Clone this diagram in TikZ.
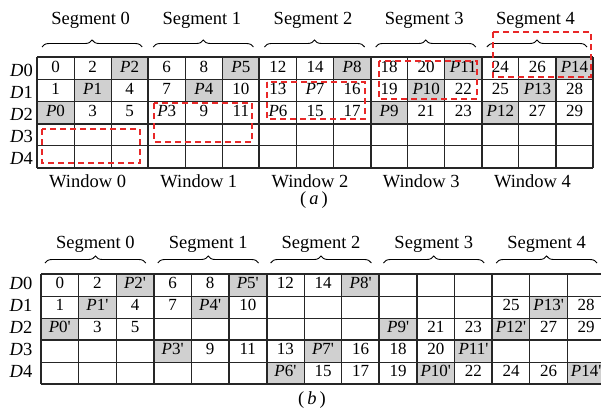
\documentclass[tikz,border=0pt]{standalone}
\usepackage{fontspec}
\setmainfont{Liberation Serif}
\usetikzlibrary{decorations.pathreplacing}
\definecolor{cellgray}{RGB}{208,208,208}
\definecolor{dashred}{RGB}{232,40,40}
\newcommand\Pc[1]{\textit{P}#1}
\newcommand\Pp[1]{\textit{P}#1\textquotesingle}
\begin{document}
\begin{tikzpicture}[x=1pt,y=-1pt,
  gridline/.style={line width=1.1pt,black!85},
  thickline/.style={line width=2pt,black!85},
  celltext/.style={anchor=base,inner sep=0pt,font=\fontsize{17}{19}\selectfont},
  labeltext/.style={anchor=base,inner sep=0pt,font=\fontsize{18.5}{20}\selectfont},
  rowlabel/.style={anchor=base east,inner sep=0pt,font=\fontsize{18.5}{20}\selectfont},
  segbrace/.style={decorate,decoration={brace,amplitude=7pt},line width=0.9pt},
  reddash/.style={draw=dashred,line width=1.3pt,dash pattern=on 6pt off 4pt}]
\useasboundingbox (0,0) rectangle (601,410);
\clip (0,0) rectangle (601,410);
\fill[white] (0,0) rectangle (601,410);
% ================= (a) =================
\def\ax{37}\def\aw{37.07}\def\ay{57}\def\ah{22.2}
\foreach \c/\r in {2/0,5/0,8/0,11/0,14/0,1/1,4/1,10/1,13/1,0/2,9/2,12/2}
  \fill[cellgray] ({\ax+\c*\aw},{\ay+\r*\ah}) rectangle ++(\aw,\ah);
\foreach \t [count=\c from 0] in {0,2,\Pc{2},6,8,\Pc{5},12,14,\Pc{8},18,20,\Pc{11},24,26,\Pc{14}}
  \node[celltext] (a0-\c) at ({\ax+(\c+0.5)*\aw},{\ay+0*\ah+15.5}) {\t};
\foreach \t [count=\c from 0] in {1,\Pc{1},4,7,\Pc{4},10,13,\Pc{7},16,19,\Pc{10},22,25,\Pc{13},28}
  \node[celltext] (a1-\c) at ({\ax+(\c+0.5)*\aw},{\ay+1*\ah+15.5}) {\t};
\foreach \t [count=\c from 0] in {\Pc{0},3,5,\Pc{3},9,11,\Pc{6},15,17,\Pc{9},21,23,\Pc{12},27,29}
  \node[celltext] (a2-\c) at ({\ax+(\c+0.5)*\aw},{\ay+2*\ah+15.5}) {\t};
\foreach \i in {0,...,15}
  \draw[gridline] ({\ax+\i*\aw},\ay) -- ++(0,{5*\ah});
\foreach \j in {0,...,5}
  \draw[gridline] (\ax,{\ay+\j*\ah}) -- ++({15*\aw},0);
\foreach \i in {0,3,...,15}
  \draw[thickline] ({\ax+\i*\aw},\ay) -- ++(0,{5*\ah});
\foreach \j in {0,3,5}
  \draw[thickline] (\ax,{\ay+\j*\ah}) -- ++({15*\aw},0);
\foreach \r in {0,...,4}
  \node[rowlabel] (ad\r) at (33,{\ay+\r*\ah+19}) {\textit{D}\r};
\foreach \s in {0,...,4} {
  \draw[segbrace] ({\ax+3*\s*\aw+5},47) -- ({\ax+3*(\s+1)*\aw-6},47);
  \node[labeltext] (aseg\s) at ({\ax+(3*\s+1.5)*\aw-2},24) {Segment \s};
  \node[labeltext] (awin\s) at ({\ax+(3*\s+1.5)*\aw-5},187) {Window \s};
}
\node[labeltext] (acap) at (314,204) {(\,\textit{a}\,)};
% red dashed windows
\draw[reddash] (42,129) rectangle (140,163);
\draw[reddash] (154,103) rectangle (252,142);
\draw[reddash] (267,82) rectangle (365,119);
\draw[reddash] (379,61) rectangle (477,99);
\draw[reddash] (493,32) rectangle (591,77);
% ================= (b) =================
\def\bx{41}\def\bw{37.6}\def\by{274.3}\def\bh{22}
\foreach \c/\r in {2/0,5/0,8/0,1/1,4/1,13/1,0/2,9/2,12/2,3/3,7/3,11/3,6/4,10/4,14/4}
  \fill[cellgray] ({\bx+\c*\bw},{\by+\r*\bh}) rectangle ++(\bw,\bh);
\foreach \t [count=\c from 0] in {0,2,\Pp{2},6,8,\Pp{5},12,14,\Pp{8},{},{},{},{},{},{}}
  \node[celltext] (b0-\c) at ({\bx+(\c+0.5)*\bw},{\by+0*\bh+14.5}) {\t};
\foreach \t [count=\c from 0] in {1,\Pp{1},4,7,\Pp{4},10,{},{},{},{},{},{},25,\Pp{13},28}
  \node[celltext] (b1-\c) at ({\bx+(\c+0.5)*\bw},{\by+1*\bh+14.5}) {\t};
\foreach \t [count=\c from 0] in {\Pp{0},3,5,{},{},{},{},{},{},\Pp{9},21,23,\Pp{12},27,29}
  \node[celltext] (b2-\c) at ({\bx+(\c+0.5)*\bw},{\by+2*\bh+14.5}) {\t};
\foreach \t [count=\c from 0] in {{},{},{},\Pp{3},9,11,13,\Pp{7},16,18,20,\Pp{11},{},{},{}}
  \node[celltext] (b3-\c) at ({\bx+(\c+0.5)*\bw},{\by+3*\bh+14.5}) {\t};
\foreach \t [count=\c from 0] in {{},{},{},{},{},{},\Pp{6},15,17,19,\Pp{10},22,24,26,\Pp{14}}
  \node[celltext] (b4-\c) at ({\bx+(\c+0.5)*\bw},{\by+4*\bh+14.5}) {\t};
\foreach \i in {0,...,15}
  \draw[gridline] ({\bx+\i*\bw},\by) -- ++(0,{5*\bh});
\foreach \j in {0,...,5}
  \draw[gridline] (\bx,{\by+\j*\bh}) -- ++({15*\bw},0);
\foreach \i in {0,3,...,15}
  \draw[thickline] ({\bx+\i*\bw},\by) -- ++(0,{5*\bh});
\foreach \j in {0,3,5}
  \draw[thickline] (\bx,{\by+\j*\bh}) -- ++({15*\bw},0);
\foreach \r in {0,...,4}
  \node[rowlabel] (bd\r) at (32.5,{\by+\r*\bh+15.5}) {\textit{D}\r};
\foreach \s in {0,...,4} {
  \draw[segbrace] ({\bx+3*\s*\bw+4},263) -- ({\bx+3*(\s+1)*\bw-8},263);
  \node[labeltext] (bseg\s) at ({\bx+(3*\s+1.5)*\bw-2},248) {Segment \s};
}
\node[labeltext] (bcap) at (312,404) {(\,\textit{b}\,)};
\end{tikzpicture}
\end{document}
